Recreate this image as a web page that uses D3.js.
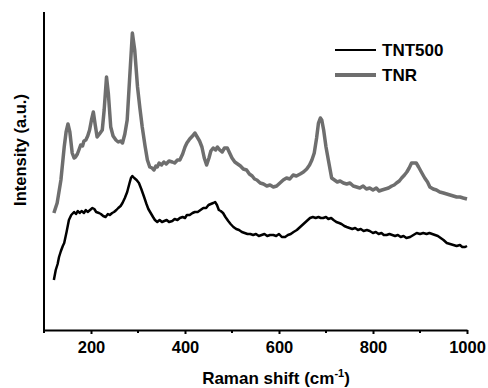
<!DOCTYPE html>
<html>
<head>
<meta charset="utf-8">
<script src="https://cdn.jsdelivr.net/npm/d3@7"></script>
<style>
  body { margin: 0; background: #fff; }
  text { font-family: "Liberation Sans", Arial, sans-serif; font-weight: bold; fill: #000; }
</style>
</head>
<body>
<script>
// values (arbitrary intensity units)
var tnrShift = [121,128,136,143,147,151,155,160,164,167,171,175,178,182,185,189,193,197,201,205,209,213,218,224,228,233,237,242,247,253,258,263,267,272,277,282,288,293,299,304,309,315,320,325,330,334,338,341,345,350,355,360,366,373,378,384,389,395,400,404,410,416,421,426,431,436,441,446,451,455,460,465,469,474,479,484,490,495,500,506,512,518,524,531,537,543,548,553,560,567,574,581,588,595,602,609,616,623,630,637,645,652,659,665,670,675,680,684,688,691,695,700,705,712,718,724,730,737,744,751,758,765,772,779,786,793,800,807,813,819,826,833,840,845,850,856,861,867,872,877,882,887,892,897,904,910,916,921,928,935,942,950,957,964,971,978,985,992,1000];
var tnrIntensity = [117,127,150,183,198,206,198,177,172,173,176,181,185,184,189,190,194,200,210,218,205,193,196,200,220,253,236,203,194,190,188,189,187,196,210,250,297,280,243,222,203,184,170,163,162,160,164,163,167,165,168,166,169,168,167,170,170,176,183,187,191,194,197,193,189,183,172,165,172,179,182,180,183,180,178,182,182,177,172,168,166,164,161,160,156,154,151,150,147,146,144,145,143,144,147,150,152,151,155,154,156,158,161,165,170,177,192,207,212,210,200,183,170,152,150,148,149,147,146,147,144,143,142,144,141,142,140,142,139,140,141,142,144,145,147,149,152,155,158,162,167,167,167,163,157,152,148,143,141,140,138,137,136,135,134,133,133,132,131];

var tntShift = [121,125,129,132,136,140,143,148,153,158,164,168,172,176,180,185,189,193,198,203,207,211,217,221,226,231,236,240,245,249,254,258,263,267,272,277,282,285,288,292,297,302,307,313,318,322,327,332,336,341,346,351,356,361,366,373,378,384,389,395,400,404,410,416,421,427,433,439,445,450,455,460,464,468,472,476,481,486,492,497,503,509,515,521,527,533,539,545,551,557,563,569,575,581,588,594,600,606,613,619,625,631,638,645,652,659,666,672,678,684,689,694,700,705,711,716,722,728,733,739,744,750,756,762,768,774,780,787,793,800,806,812,818,823,829,835,841,847,853,859,865,871,879,886,893,900,907,914,920,926,932,938,944,950,957,964,971,978,985,990,996,1000];
var tntIntensity = [50,60,66,73,79,84,87,98,110,115,118,116,119,117,119,117,120,118,120,122,121,118,117,116,114,113,116,115,117,118,120,122,124,127,132,138,147,152,154,152,150,147,141,133,126,121,117,113,110,108,110,108,109,110,108,109,111,110,112,113,112,115,115,117,118,118,120,122,122,125,126,127,128,125,120,119,117,113,109,106,103,101,100,98,97,96,96,95,96,94,95,96,94,95,95,94,96,93,93,95,96,98,100,103,106,109,112,113,112,113,112,112,113,111,112,110,108,107,106,104,103,102,101,102,100,101,99,100,99,97,98,96,97,95,95,96,95,94,95,93,94,92,93,95,97,96,97,96,97,96,95,94,92,90,87,86,85,84,85,83,83,84];

var seriesNames = ['TNT500', 'TNR'];
var xMajorTicks = [200, 400, 600, 800, 1000];
var xMinorTicks = [100, 300, 500, 700, 900];

var W = 488, H = 388;
var plotL = 44, plotR = 467, plotT = 12, plotB = 330;

var svg = d3.select('body').append('svg')
    .attr('width', W)
    .attr('height', H);

var x = d3.scaleLinear().domain([100, 1000]).range([plotL, plotR]);
var y = d3.scaleLinear().domain([0, 318]).range([plotB, plotT]);

var line = d3.line()
    .x(function(d) { return x(d[0]); })
    .y(function(d) { return y(d[1]); });

var tnrData = d3.zip(tnrShift, tnrIntensity);
var tntData = d3.zip(tntShift, tntIntensity);

// spectra
svg.append('path')
    .datum(tnrData)
    .attr('d', line)
    .attr('fill', 'none')
    .attr('stroke', '#6e6e6e')
    .attr('stroke-width', 3.5)
    .attr('stroke-linejoin', 'round');

svg.append('path')
    .datum(tntData)
    .attr('d', line)
    .attr('fill', 'none')
    .attr('stroke', '#000')
    .attr('stroke-width', 2.5)
    .attr('stroke-linejoin', 'round');

// x axis
var xAxis = svg.append('g')
    .attr('transform', 'translate(0,' + plotB + ')')
    .call(d3.axisBottom(x).tickValues(xMajorTicks).tickFormat(d3.format('d'))
        .tickSize(4).tickSizeOuter(0).tickPadding(7));
xAxis.select('.domain').attr('stroke-width', 2);
xAxis.selectAll('.tick line').attr('stroke-width', 2);
xAxis.selectAll('.tick text').attr('font-size', 16.5).attr('font-family', '"Liberation Sans", Arial, sans-serif');

svg.append('g')
    .attr('transform', 'translate(0,' + plotB + ')')
    .selectAll('line')
    .data(xMinorTicks)
    .enter()
    .append('line')
    .attr('x1', function(d) { return x(d); })
    .attr('x2', function(d) { return x(d); })
    .attr('y1', 0)
    .attr('y2', 3)
    .attr('stroke', '#000')
    .attr('stroke-width', 2);

// y axis (no ticks)
svg.append('line')
    .attr('x1', plotL).attr('x2', plotL)
    .attr('y1', plotT).attr('y2', plotB + 1)
    .attr('stroke', '#000')
    .attr('stroke-width', 2);

// axis titles
var xt = svg.append('text')
    .attr('x', 276)
    .attr('y', 384)
    .attr('text-anchor', 'middle')
    .attr('font-size', 17);
xt.append('tspan').text('Raman shift (cm');
xt.append('tspan').attr('font-size', 11).attr('dy', -7).text('-1');
xt.append('tspan').attr('dy', 7).text(')');

svg.append('text')
    .attr('transform', 'translate(26,150) rotate(-90)')
    .attr('text-anchor', 'middle')
    .attr('font-size', 16.5)
    .text('Intensity (a.u.)');

// legend
var legendColors = ['#000', '#6e6e6e'];
var legendWidths = [2, 4];
var lg = svg.append('g')
    .selectAll('g')
    .data(seriesNames)
    .enter()
    .append('g')
    .attr('transform', function(d, i) { return 'translate(335,' + (50 + i * 25) + ')'; });
lg.append('line')
    .attr('x1', 0).attr('x2', 41)
    .attr('stroke', function(d, i) { return legendColors[i]; })
    .attr('stroke-width', function(d, i) { return legendWidths[i]; });
lg.append('text')
    .attr('x', 47)
    .attr('y', 6)
    .attr('font-size', 17)
    .text(function(d) { return d; });
</script>
</body>
</html>
